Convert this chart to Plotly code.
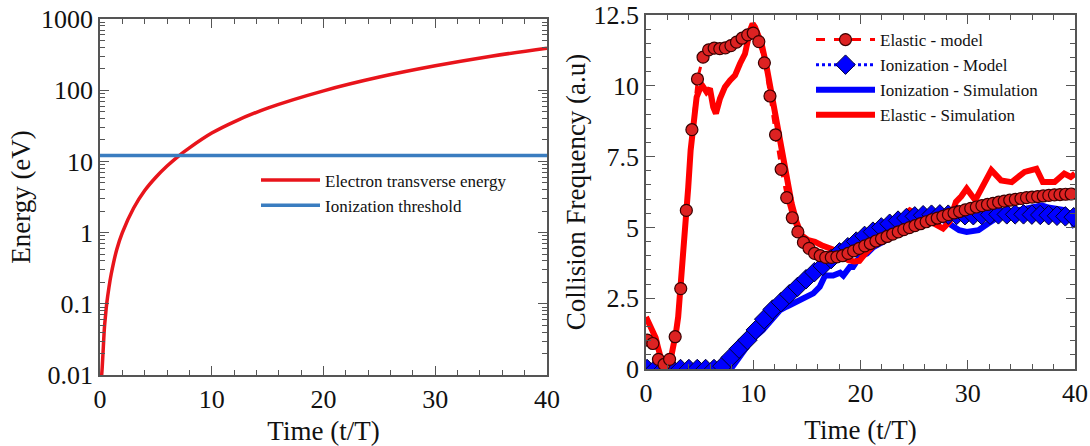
import plotly.graph_objects as go

# ---------------- Left panel data ----------------
energy_t = [0.15, 0.2, 0.3, 0.4, 0.5, 0.6, 0.8, 1.0, 1.5, 2, 3, 4, 5, 6, 7, 8, 10, 12, 15, 20, 25, 30, 35, 40]
energy_v = [0.01, 0.013, 0.025, 0.047, 0.07, 0.1, 0.17, 0.26, 0.58, 1.0, 2.2, 3.9, 6.0, 8.6, 11.8, 15.5, 25, 36, 56, 98, 153, 220, 300, 390]
threshold_t = [0, 40]
threshold_v = [12.1, 12.1]

# ---------------- Right panel data ----------------
el_model_t = [0.12, 0.64, 1.16, 1.68, 2.20, 2.72, 3.24, 3.76, 4.28, 4.80, 5.32, 5.84, 6.36, 6.88, 7.40, 7.92,
              8.44, 8.96, 9.48, 10.00, 10.52, 11.04, 11.56, 12.08, 12.60, 13.12, 13.64, 14.16, 14.68, 15.20,
              15.72, 16.24, 16.76, 17.28, 17.80, 18.32, 18.84, 19.36, 19.88, 20.40, 20.92, 21.44, 21.96, 22.48,
              23.00, 23.52, 24.04, 24.56, 25.08, 25.60, 26.12, 26.64, 27.16, 27.68, 28.20, 28.72, 29.24, 29.76,
              30.28, 30.80, 31.32, 31.84, 32.36, 32.88, 33.40, 33.92, 34.44, 34.96, 35.48, 36.00, 36.52, 37.04,
              37.56, 38.08, 38.60, 39.12, 39.64]
el_model_v = [1.02, 0.9, 0.34, 0.16, 0.34, 1.14, 2.84, 5.6, 8.45, 10.24, 11.01, 11.27, 11.33, 11.31, 11.34, 11.42,
              11.54, 11.68, 11.8, 11.86, 11.56, 10.81, 9.64, 8.27, 7.05, 6.05, 5.34, 4.84, 4.47, 4.26,
              4.08, 4.0, 3.94, 3.94, 3.96, 4.0, 4.08, 4.17, 4.26, 4.35, 4.43, 4.52, 4.6, 4.68,
              4.76, 4.84, 4.92, 4.99, 5.06, 5.13, 5.2, 5.27, 5.33, 5.39, 5.45, 5.51, 5.56, 5.62,
              5.67, 5.72, 5.77, 5.81, 5.85, 5.89, 5.93, 5.96, 5.99, 6.02, 6.05, 6.07, 6.09, 6.11,
              6.13, 6.15, 6.16, 6.17, 6.18]

ion_model_t = [0.10, 0.88, 1.66, 2.44, 3.22, 4.00, 4.78, 5.56, 6.34, 7.12, 7.90, 8.68, 9.46, 10.24, 11.02, 11.80,
               12.58, 13.36, 14.14, 14.92, 15.70, 16.48, 17.26, 18.04, 18.82, 19.60, 20.38, 21.16, 21.94, 22.72,
               23.50, 24.28, 25.06, 25.84, 26.62, 27.40, 28.18, 28.96, 29.74, 30.52, 31.30, 32.08, 32.86, 33.64,
               34.42, 35.20, 35.98, 36.76, 37.54, 38.32, 39.10, 39.88]
ion_model_v = [0, 0, 0, 0, 0, 0, 0, 0, 0, 0.1, 0.41, 0.72, 1.02, 1.38, 1.76, 2.1,
               2.36, 2.64, 2.9, 3.17, 3.42, 3.64, 3.88, 4.12, 4.3, 4.5, 4.7, 4.85, 5.0, 5.13,
               5.24, 5.33, 5.39, 5.43, 5.45, 5.46, 5.45, 5.44, 5.43, 5.43, 5.44, 5.45, 5.46, 5.46,
               5.46, 5.46, 5.45, 5.44, 5.43, 5.41, 5.39, 5.36]

el_sim_t = [0, 0.3, 0.6, 0.9, 1.1, 1.4, 1.6, 1.8, 2.0, 2.2, 2.5, 2.8, 3.0, 3.3, 3.6, 3.94, 4.16, 4.4, 4.72, 5.03,
            5.3, 5.65, 5.96, 6.27, 6.52, 6.9, 7.36, 7.83, 8.3, 8.76, 9.23, 9.69, 9.94, 10.16, 10.78, 11.25,
            11.71, 12.18, 12.65, 13.11, 13.58, 14.04, 14.51, 15.13, 15.75, 16.37, 17.0, 17.6, 18.2, 18.86,
            19.4, 19.9, 20.5, 21.2, 22.0, 22.8, 23.6, 24.3, 24.6, 25.3, 26.0, 26.8, 27.7, 28.3, 28.9, 29.4,
            29.9, 30.7, 31.3, 32.2, 33.1, 34.1, 35.3, 36.4, 37.0, 38.1, 39.0, 39.6, 40]
el_sim_v = [1.84, 1.6, 1.4, 1.1, 0.79, 0.35, 0.08, 0.0, 0.0, 0.15, 0.67, 1.3, 1.84, 3.14, 4.78, 6.43, 7.72, 8.78,
            9.6, 9.9, 9.98, 9.78, 9.9, 9.25, 9.02, 9.55, 9.96, 10.19, 10.37, 10.78, 11.13, 11.95, 12.19, 12.07,
            11.48, 10.66, 9.72, 8.78, 7.72, 6.66, 5.84, 5.19, 4.72, 4.55, 4.49, 4.37, 4.31, 4.2, 4.02, 3.84,
            3.8, 3.82, 4.1, 4.35, 4.6, 4.85, 5.2, 5.5, 5.6, 5.45, 5.4, 5.15, 4.96, 5.2, 5.9, 6.1,
            6.37, 5.96, 6.37, 7.02, 6.66, 6.6, 6.96, 7.07, 6.6, 6.6, 6.9, 6.78, 6.9]

ion_sim_t = [0, 7.9, 8.2, 8.8, 9.4, 9.9, 10.9, 11.86, 12.5, 13.1, 13.7, 14.35, 14.65, 15.2, 15.6, 16.2, 16.5,
             16.7, 17.0, 17.45, 18.1, 18.4, 19.0, 19.3, 19.9, 20.6, 21.2, 21.8, 22.4, 23.05, 23.8, 24.6, 25.4,
             26.2, 26.8, 27.4, 28.0, 28.6, 29.2, 29.9, 30.4, 31.0, 31.9, 33.1, 34.4, 35.2, 35.9, 36.9, 37.5,
             38.1, 39.0, 39.4, 39.8, 40]
ion_sim_v = [0, 0, 0.15, 0.5, 0.85, 1.05, 1.38, 1.84, 2.08, 2.2, 2.3, 2.43, 2.5, 2.55, 2.67, 2.9, 3.14,
             3.3, 3.3, 3.3, 3.4, 3.3, 3.6, 3.6, 3.95, 4.08, 4.3, 4.43, 4.6, 4.72, 4.9, 5.02, 5.1,
             5.19, 5.25, 5.31, 5.2, 5.02, 4.9, 4.84, 4.88, 4.9, 5.14, 5.43, 5.58, 5.66, 5.72, 5.78, 5.7,
             5.67, 5.61, 5.5, 5.08, 5.0]

log_tickvals = [0.01, 0.1, 1, 10, 100, 1000]
log_ticktext = ["0.01", "0.1", "1", "10", "100", "1000"]
lin_tickvals = [0, 2.5, 5, 7.5, 10, 12.5]
lin_ticktext = ["0", "2.5", "5", "7.5", "10", "12.5"]
x_tickvals = [0, 10, 20, 30, 40]

FONT = "Liberation Serif"
W, H = 1090, 446


def px_x(p):
    return p / W


def px_y(p):
    return 1 - p / H


fig = go.Figure()

# left panel
fig.add_trace(go.Scatter(x=energy_t, y=energy_v, mode="lines", line=dict(color="#e8141b", width=3.5, shape="spline"),
                         name="Electron transverse energy", xaxis="x", yaxis="y", legend="legend"))
fig.add_trace(go.Scatter(x=threshold_t, y=threshold_v, mode="lines", line=dict(color="#3a7dc0", width=3.5),
                         name="Ionization threshold", xaxis="x", yaxis="y", legend="legend"))

# right panel
fig.add_trace(go.Scatter(x=ion_sim_t, y=ion_sim_v, mode="lines", line=dict(color="#0000ff", width=6),
                         name="Ionization - Simulation", xaxis="x2", yaxis="y2", legend="legend2", legendrank=3))
fig.add_trace(go.Scatter(x=el_sim_t, y=el_sim_v, mode="lines", line=dict(color="#ff0000", width=6),
                         name="Elastic - Simulation", xaxis="x2", yaxis="y2", legend="legend2", legendrank=4))
fig.add_trace(go.Scatter(x=ion_model_t, y=ion_model_v, mode="lines+markers",
                         line=dict(color="#0000ff", width=3, dash="dot"),
                         marker=dict(symbol="diamond", size=15, color="#0000ff", line=dict(color="#000033", width=1)),
                         name="Ionization - Model", xaxis="x2", yaxis="y2", legend="legend2", legendrank=2))
fig.add_trace(go.Scatter(x=el_model_t, y=el_model_v, mode="lines+markers",
                         line=dict(color="#ff0000", width=3, dash="dash"),
                         marker=dict(symbol="circle", size=12, color="#dd2222", line=dict(color="#3a0000", width=1.2)),
                         name="Elastic - model", xaxis="x2", yaxis="y2", legend="legend2", legendrank=1))

axis_common = dict(showline=True, linecolor="#555555", linewidth=1.5, mirror="allticks",
                   ticks="inside", ticklen=9, tickwidth=1.3, tickcolor="#555555",
                   showgrid=False, zeroline=False, automargin=False, ticklabeloverflow="allow",
                   tickfont=dict(family=FONT, size=26, color="#111111"))
title_font = dict(family=FONT, size=27, color="#111111")

fig.update_layout(
    template="none",
    width=W, height=H,
    margin=dict(l=0, r=0, t=0, b=0, pad=0, autoexpand=False),
    paper_bgcolor="white", plot_bgcolor="white",
    font=dict(family=FONT, color="#111111"),
    xaxis=dict(domain=[px_x(100), px_x(547)], range=[0, 40], tickvals=x_tickvals,
               minor=dict(dtick=2, ticks="inside", ticklen=5, tickcolor="#555555"),
               title=dict(text="Time (t/T)", font=title_font, standoff=13),
               anchor="y", **axis_common),
    yaxis=dict(domain=[px_y(375), px_y(19)], type="log", range=[-2, 3],
               tickvals=log_tickvals, ticktext=log_ticktext,
               minor=dict(dtick="D1", ticks="inside", ticklen=5, tickcolor="#555555"),
               title=dict(text="Energy (eV)", font=title_font, standoff=3),
               anchor="x", **axis_common),
    xaxis2=dict(domain=[px_x(646), px_x(1075)], range=[0, 40], tickvals=x_tickvals,
                minor=dict(dtick=2, ticks="inside", ticklen=5, tickcolor="#555555"),
                title=dict(text="Time (t/T)", font=title_font, standoff=13),
                anchor="y2", **axis_common),
    yaxis2=dict(domain=[px_y(369), px_y(15)], range=[0, 12.5],
                tickvals=lin_tickvals, ticktext=lin_ticktext,
                minor=dict(dtick=0.5, ticks="inside", ticklen=5, tickcolor="#555555"),
                title=dict(text="Collision Frequency (a.u)", font=title_font, standoff=0),
                anchor="x2", **axis_common),
    legend=dict(x=px_x(256), y=px_y(162.5), xanchor="left", yanchor="top", bgcolor="rgba(0,0,0,0)",
                font=dict(family=FONT, size=17), itemwidth=59, tracegroupgap=0),
    legend2=dict(x=px_x(811), y=px_y(22), xanchor="left", yanchor="top", bgcolor="rgba(0,0,0,0)",
                 font=dict(family=FONT, size=17), itemwidth=59, tracegroupgap=0),
    showlegend=True,
)

# remove the default 8px page margin so the figure fills the window exactly; hide the mode bar
fig.write_html("out.html",
               config={"displayModeBar": False},
               post_script="document.body.style.margin='0';document.documentElement.style.overflow='hidden';document.body.style.overflow='hidden';")
